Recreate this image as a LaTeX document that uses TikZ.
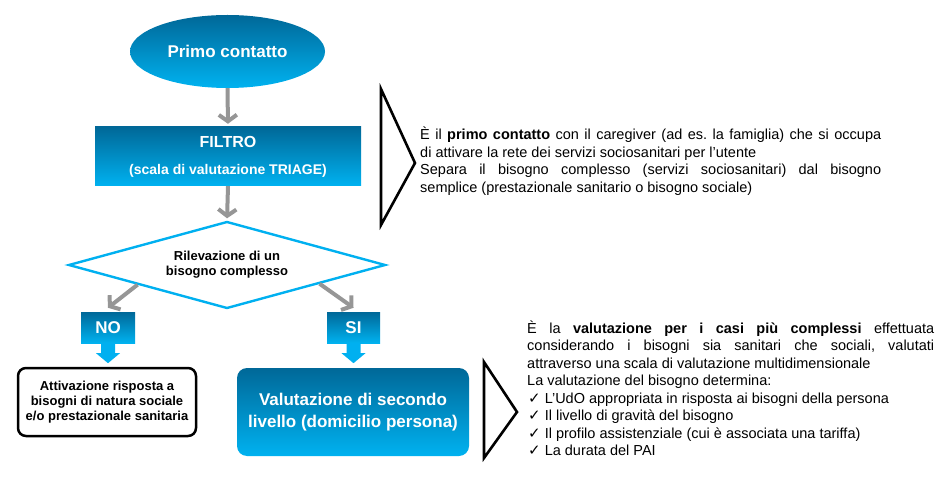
\documentclass[tikz,border=0pt]{standalone}
\usepackage{fontspec}
\setmainfont{Liberation Sans}
\newfontfamily\dejavu{DejaVu Sans}
\usetikzlibrary{arrows.meta,shapes.geometric,calc}
\definecolor{bluetop}{RGB}{0,104,152}
\definecolor{bluebot}{RGB}{0,178,240}
\definecolor{cyanline}{RGB}{0,176,240}
\definecolor{arrgray}{RGB}{150,150,150}
\newcommand\chk{\hspace{1pt}{\dejavu\fontsize{15}{15}\selectfont ✓}\hspace{4pt}}
\frenchspacing
\begin{document}
\begin{tikzpicture}[x=1pt,y=-1pt,
  shadebox/.style={top color=bluetop, bottom color=bluebot, draw=none, text=white, inner sep=0pt},
  grayarrow/.style={draw=arrgray, line width=4pt, line join=round, -{Straight Barb[length=6.5pt,width=18pt]}},
  txt/.style={anchor=base west, inner sep=0pt, font=\fontsize{14.5}{17.5}\selectfont},
  downarrow/.style={fill=cyanline},
  tri/.style={draw=black, line width=2.6pt, line join=miter}]
\useasboundingbox (0,0) rectangle (947,478);

% shapes
\node[shadebox, ellipse, minimum width=195pt, minimum height=73pt,
      font=\bfseries\fontsize{17}{20}\selectfont] (primo) at (227.5,51.5) {Primo contatto};
\node[shadebox, rectangle, minimum width=266pt, minimum height=59pt, align=center,
      font=\bfseries\fontsize{16}{27}\selectfont] (filtro) at (228,156.5)
      {FILTRO\\{\fontsize{14}{17}\selectfont (scala di valutazione TRIAGE)}};
\node[diamond, aspect=3.64, draw=cyanline, line width=2.4pt, fill=white, inner sep=0pt,
      minimum width=317pt, minimum height=87pt, align=center,
      font=\bfseries\fontsize{13}{15}\selectfont] (dia) at (227,265)
      {Rilevazione di un\\bisogno complesso};
\node[shadebox, rectangle, minimum width=54pt, minimum height=31pt,
      font=\bfseries\fontsize{17}{20}\selectfont] (no) at (108,327.5) {NO};
\node[shadebox, rectangle, minimum width=53pt, minimum height=31pt,
      font=\bfseries\fontsize{17}{20}\selectfont] (si) at (353.5,327.5) {SI};
\node[draw=black, line width=2.5pt, rounded corners=8pt, fill=white,
      minimum width=178pt, minimum height=68pt, inner sep=0pt, align=center,
      font=\bfseries\fontsize{13}{15}\selectfont] (att) at (107,402)
      {Attivazione risposta a\\bisogni di natura sociale\\e/o prestazionale sanitaria};
\node[shadebox, rounded corners=10pt, minimum width=232pt, minimum height=88pt, align=center,
      font=\bfseries\fontsize{17}{22}\selectfont] (val) at (353,412)
      {Valutazione di secondo\\livello (domicilio persona)};

% connectors
\draw[grayarrow, shorten >=3pt] (primo.south) -- (filtro.north);
\draw[grayarrow, shorten >=2pt] (filtro.south) -- (dia.north);
\draw[grayarrow] ($(dia.west)!0.44!(dia.south)$) -- ($(no.north)+(0,-4)$);
\draw[grayarrow] ($(dia.east)!0.42!(dia.south)$) -- ($(si.north)+(0,-4)$);

% block arrows
\fill[downarrow] ($(no.south)+(-7,0)$) -- ($(no.south)+(-7,10)$) -- ($(no.south)+(-12,10)$)
  -- ($(no.south)+(0,20)$) -- ($(no.south)+(12,10)$) -- ($(no.south)+(7,10)$)
  -- ($(no.south)+(7,0)$) -- cycle;
\fill[downarrow] ($(si.south)+(-7,0)$) -- ($(si.south)+(-7,10)$) -- ($(si.south)+(-12,10)$)
  -- ($(si.south)+(0,20)$) -- ($(si.south)+(12,10)$) -- ($(si.south)+(7,10)$)
  -- ($(si.south)+(7,0)$) -- cycle;

% brackets
\draw[tri] (381,89) -- (415,163) -- (381,225) -- cycle;
\draw[tri] (484,362) -- (517,412) -- (484,458) -- cycle;

% text block 1
\node[txt] (a1) at (420,140) {\makebox[461pt][s]{È il \textbf{primo contatto} con il caregiver (ad es. la famiglia) che si occupa}};
\node[txt] (a2) at (420,157.5) {di attivare la rete dei servizi sociosanitari per l’utente};
\node[txt] (a3) at (420,175) {\makebox[461pt][s]{Separa il bisogno complesso (servizi sociosanitari) dal bisogno}};
\node[txt] (a4) at (420,192.5) {semplice (prestazionale sanitario o bisogno sociale)};

% text block 2
\node[txt] (b1) at (527,333) {\makebox[407pt][s]{È la \textbf{valutazione per i casi più complessi} effettuata}};
\node[txt] (b2) at (527,350.5) {\makebox[407pt][s]{considerando i bisogni sia sanitari che sociali, valutati}};
\node[txt] (b3) at (527,368) {attraverso una scala di valutazione multidimensionale};
\node[txt] (b4) at (527,385.5) {La valutazione del bisogno determina:};
\node[txt] (b5) at (527,403) {\chk L’UdO appropriata in risposta ai bisogni della persona};
\node[txt] (b6) at (527,420.5) {\chk Il livello di gravità del bisogno};
\node[txt] (b7) at (527,438) {\chk Il profilo assistenziale (cui è associata una tariffa)};
\node[txt] (b8) at (527,455.5) {\chk La durata del PAI};
\end{tikzpicture}
\end{document}
